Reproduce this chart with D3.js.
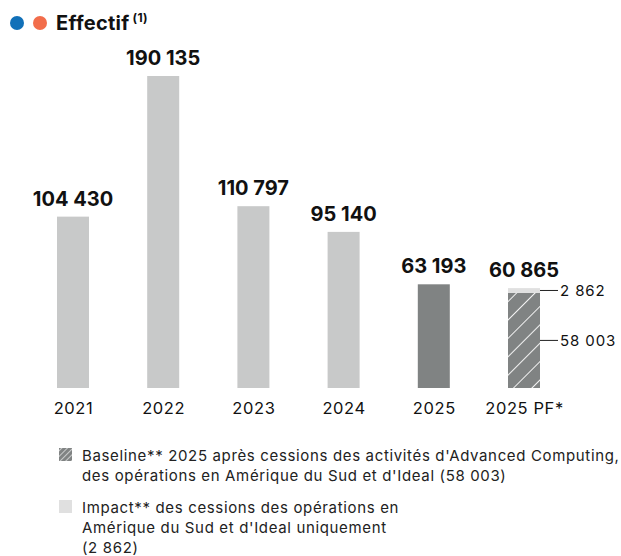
<!DOCTYPE html>
<html>
<head>
<meta charset="utf-8">
<script src="https://d3js.org/d3.v7.min.js"></script>
<style>
  body { margin: 0; background: #fff; }
  svg { display: block; font-family: "Inter", "Noto Sans", sans-serif; }
</style>
</head>
<body>
<svg class="chart" width="621" height="556"></svg>
<script>
  // data
  const years = ["2021", "2022", "2023", "2024", "2025", "2025 PF*"];
  const totals = [104430, 190135, 110797, 95140, 63193, 60865];
  const pfParts = [58003, 2862]; // baseline, impact
  const legendLabels = [
    ["Baseline** 2025 après cessions des activités d'Advanced Computing,", "des opérations en Amérique du Sud et d'Ideal (58 003)"],
    ["Impact** des cessions des opérations en", "Amérique du Sud et d'Ideal uniquement", "(2 862)"]
  ];

  const fmt = n => d3.format(",")(n).replace(/,/g, " ");

  const lightGrey = "#c8c9c9";
  const darkGrey = "#808383";
  const impactGrey = "#e0e0e0";

  const svg = d3.select(".chart");
  const barW = 32;

  const x = d3.scalePoint().domain(years).range([73, 524]);
  const y = d3.scaleLinear().domain([0, d3.max(totals)]).range([388, 76]);

  // hatch pattern
  const defs = svg.append("defs");
  const pat = defs.append("pattern")
    .attr("id", "hatch")
    .attr("patternUnits", "userSpaceOnUse")
    .attr("width", 13).attr("height", 13)
    .attr("patternTransform", "rotate(45)");
  pat.append("rect").attr("width", 13).attr("height", 13).attr("fill", darkGrey);
  pat.append("line").attr("x1", 0).attr("y1", 0).attr("x2", 0).attr("y2", 13)
    .attr("stroke", "#fff").attr("stroke-width", 1.8);

  const patSmall = defs.append("pattern")
    .attr("id", "hatch-small")
    .attr("patternUnits", "userSpaceOnUse")
    .attr("width", 4).attr("height", 4)
    .attr("patternTransform", "rotate(45)");
  patSmall.append("rect").attr("width", 4).attr("height", 4).attr("fill", darkGrey);
  patSmall.append("line").attr("x1", 0).attr("y1", 0).attr("x2", 0).attr("y2", 4)
    .attr("stroke", "#fff").attr("stroke-width", 1.2);

  // title
  svg.append("circle").attr("cx", 17).attr("cy", 23).attr("r", 7).attr("fill", "#1170b8");
  svg.append("circle").attr("cx", 40).attr("cy", 23).attr("r", 7).attr("fill", "#f26d4b");
  const title = svg.append("text").attr("x", 56).attr("y", 30)
    .attr("font-size", 20).attr("font-weight", 700).attr("fill", "#111")
    .attr("letter-spacing", 0.3);
  title.append("tspan").text("Effectif");
  title.append("tspan").attr("dy", -8).attr("dx", 3).attr("font-size", 12).text("(1)");

  const data = years.map((yr, i) => ({ yr, v: totals[i] }));

  // normal bars (all but the pro forma)
  svg.selectAll(".bar")
    .data(data.slice(0, 5))
    .enter().append("rect")
    .attr("class", "bar")
    .attr("x", d => x(d.yr) - barW / 2)
    .attr("y", d => y(d.v))
    .attr("width", barW)
    .attr("height", d => y(0) - y(d.v))
    .attr("fill", d => d.yr === "2025" ? darkGrey : lightGrey);

  // pro forma stacked bar
  const pfX = x(years[5]) - barW / 2;
  svg.append("rect")
    .attr("x", pfX).attr("y", y(pfParts[0]))
    .attr("width", barW).attr("height", y(0) - y(pfParts[0]))
    .attr("fill", "url(#hatch)");
  svg.append("rect")
    .attr("x", pfX).attr("y", y(pfParts[0] + pfParts[1]))
    .attr("width", barW).attr("height", y(pfParts[0]) - y(pfParts[0] + pfParts[1]))
    .attr("fill", impactGrey);

  // callouts for the pro forma parts
  const callouts = [
    { v: pfParts[1], yPos: (y(pfParts[0] + pfParts[1]) + y(pfParts[0])) / 2 },
    { v: pfParts[0], yPos: (y(0) + y(pfParts[0])) / 2 }
  ];
  callouts.forEach(c => {
    svg.append("line")
      .attr("x1", pfX + barW).attr("x2", pfX + barW + 18)
      .attr("y1", c.yPos).attr("y2", c.yPos)
      .attr("stroke", "#222").attr("stroke-width", 1);
    svg.append("text")
      .attr("x", pfX + barW + 20).attr("y", c.yPos + 5.5)
      .attr("font-size", 15).attr("letter-spacing", 0.9).attr("fill", "#111")
      .text(fmt(c.v));
  });

  // value labels
  svg.selectAll(".val")
    .data(data)
    .enter().append("text")
    .attr("class", "val")
    .attr("x", d => x(d.yr))
    .attr("y", d => y(d.v) - 11)
    .attr("text-anchor", "middle")
    .attr("font-size", 20).attr("font-weight", 700).attr("fill", "#111")
    .text(d => fmt(d.v));

  // x axis labels (no line)
  const xAxis = svg.append("g")
    .attr("transform", "translate(0,402)")
    .call(d3.axisBottom(x).tickSize(0).tickPadding(0));
  xAxis.select(".domain").remove();
  xAxis.selectAll("text")
    .attr("dy", "0.71em")
    .attr("font-family", "Inter, 'Noto Sans', sans-serif")
    .attr("font-size", 16.5).attr("letter-spacing", 0.6).attr("fill", "#111");

  // legend
  const legend = svg.append("g");
  const legendY = [461, 513];
  const swatchFill = ["url(#hatch-small)", impactGrey];
  legendLabels.forEach((lines, i) => {
    legend.append("rect")
      .attr("x", 59).attr("y", legendY[i] - 13)
      .attr("width", 13).attr("height", 13)
      .attr("fill", swatchFill[i]);
    const t = legend.append("text")
      .attr("x", 82).attr("y", legendY[i])
      .attr("font-size", 15).attr("letter-spacing", 0.65).attr("fill", "#222");
    lines.forEach((ln, j) => {
      t.append("tspan").attr("x", 82).attr("dy", j === 0 ? 0 : 20).text(ln);
    });
  });
</script>
</body>
</html>
